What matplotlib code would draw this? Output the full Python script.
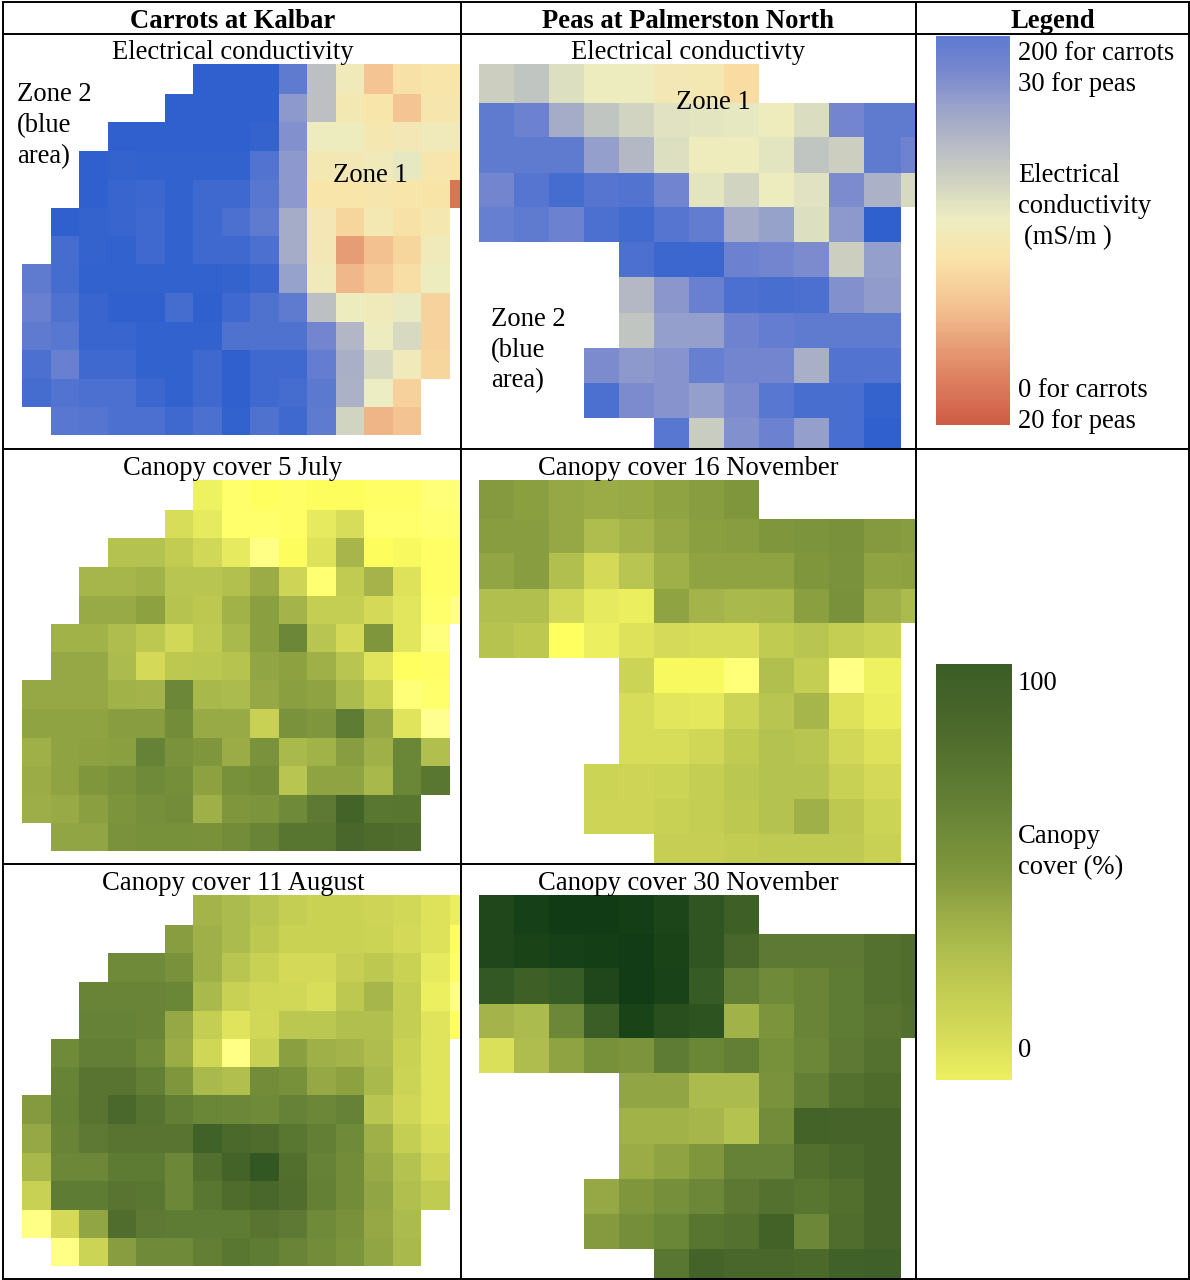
import numpy as np
import matplotlib
matplotlib.use('Agg')
import matplotlib.pyplot as plt
from matplotlib.colors import LinearSegmentedColormap, Normalize
from matplotlib.cm import ScalarMappable

n = np.nan

# electrical conductivity, legend scale 0-100, above 100 = deeper blue than the legend
ec_carrots = [
    [n, n, n, n, n, n, 115, 115, 115, 100, 70, 50, 32, 42, 44, 44],
    [n, n, n, n, n, 115, 115, 115, 115, 85, 70, 47, 44, 32, 45, 45],
    [n, n, n, 115, 115, 115, 115, 115, 113, 88, 52, 52, 46, 48, 50, 50],
    [n, n, 115, 113, 114, 114, 114, 114, 104, 85, 47, 48, 50, 55, 45, 44],
    [n, n, 115, 112, 111, 114, 110, 110, 102, 85, 44, 44, 45, 44, 43, 8],
    [n, 115, 113, 112, 110, 114, 110, 106, 100, 78, 48, 38, 47, 42, 46, n],
    [n, 108, 113, 114, 110, 114, 110, 110, 106, 78, 48, 20, 30, 38, 50, n],
    [100, 108, 114, 114, 114, 114, 114, 113, 111, 82, 50, 28, 34, 41, 52, n],
    [96, 105, 112, 115, 115, 108, 115, 110, 105, 100, 70, 52, 50, 54, 37, n],
    [100, 102, 112, 112, 114, 114, 114, 105, 105, 105, 92, 74, 52, 60, 37, n],
    [106, 96, 110, 110, 114, 114, 110, 115, 110, 110, 98, 77, 60, 50, 38, n],
    [108, 104, 106, 106, 111, 114, 110, 115, 110, 108, 101, 76, 53, 36, n, n],
    [n, 102, 103, 106, 106, 110, 106, 114, 105, 110, 100, 62, 27, 31, n, n],
]
ec_peas = [
    [64, 68, 58, 52, 52, 48, 47, 40, n, n, n, n, n],
    [100, 95, 78, 68, 62, 57, 56, 55, 51, 59, 92, 100, 100],
    [100, 100, 100, 83, 73, 58, 51, 51, 56, 68, 64, 100, 94],
    [92, 103, 108, 103, 104, 93, 56, 62, 52, 57, 90, 76, 60],
    [97, 100, 95, 106, 109, 103, 99, 78, 82, 58, 85, 115, n],
    [n, n, n, n, 106, 111, 111, 95, 92, 90, 64, 83, n],
    [n, n, n, n, 73, 86, 96, 106, 107, 106, 88, 84, n],
    [n, n, n, n, 68, 83, 83, 94, 98, 100, 100, 100, n],
    [n, n, n, 90, 85, 87, 97, 92, 92, 77, 104, 104, n],
    [n, n, n, 106, 90, 87, 83, 90, 102, 107, 107, 113, n],
    [n, n, n, n, n, 102, 65, 88, 95, 83, 107, 115, n],
]

# canopy cover %, below 0 and above 100 run past the legend ends
canopy_5jul = [
    [n, n, n, n, n, n, -1, -10, -8, -9, -7, -7, -9, -9, -12, -12],
    [n, n, n, n, n, 10, 3, -10, -10, -9, 3, 10, -10, -10, -11, -11],
    [n, n, n, 28, 28, 21, 13, 3, -14, -7, 7, 35, -7, -5, -9, -9],
    [n, n, 35, 35, 37, 26, 26, 29, 40, 15, -11, 22, 36, 7, -9, -9],
    [n, n, 41, 41, 45, 27, 24, 37, 46, 36, 20, 20, 12, 5, -10, -14],
    [n, 37, 37, 31, 24, 13, 23, 33, 46, 62, 26, 12, 50, 5, -13, n],
    [n, 42, 42, 32, 12, 24, 25, 27, 43, 45, 38, 26, 6, -8, -9, n],
    [42, 42, 42, 37, 36, 62, 34, 32, 42, 46, 44, 32, 17, -12, -10, n],
    [44, 44, 44, 47, 47, 58, 41, 41, 18, 53, 50, 70, 42, 6, -16, n],
    [38, 44, 45, 46, 66, 53, 50, 40, 53, 33, 37, 47, 38, 63, 30, n],
    [40, 44, 50, 54, 60, 57, 45, 55, 58, 26, 44, 44, 34, 63, 74, n],
    [39, 41, 46, 52, 56, 58, 38, 50, 52, 60, 72, 92, 74, 75, n, n],
    [n, 43, 43, 53, 55, 55, 54, 58, 64, 75, 75, 88, 84, 82, n, n],
]
canopy_11aug = [
    [n, n, n, n, n, n, 36, 32, 26, 20, 17, 17, 15, 13, 7, 1],
    [n, n, n, n, n, 47, 38, 32, 24, 17, 17, 17, 16, 12, 7, -7],
    [n, n, n, 60, 60, 54, 38, 26, 18, 12, 12, 19, 24, 17, 3, -9],
    [n, n, 64, 64, 64, 63, 33, 18, 14, 13, 9, 24, 35, 20, 0, -14],
    [n, n, 66, 66, 64, 42, 20, 6, 13, 25, 25, 30, 30, 20, 6, -8],
    [n, 60, 68, 68, 60, 40, 14, -14, 18, 46, 38, 36, 31, 17, 6, n],
    [n, 65, 76, 76, 68, 50, 33, 30, 58, 55, 42, 45, 33, 16, 6, n],
    [48, 66, 76, 86, 77, 68, 63, 62, 60, 66, 62, 66, 26, 14, 6, n],
    [42, 64, 72, 76, 76, 76, 95, 85, 83, 74, 68, 60, 38, 20, 10, n],
    [34, 62, 62, 71, 71, 62, 80, 92, 106, 80, 66, 58, 41, 28, 15, n],
    [18, 70, 70, 76, 74, 62, 74, 83, 88, 82, 67, 58, 43, 30, 22, n],
    [-14, 12, 43, 82, 72, 70, 70, 70, 76, 72, 60, 54, 42, 32, n, n],
    [n, -14, 16, 47, 60, 60, 68, 74, 70, 64, 58, 52, 43, 33, n, n],
]
canopy_16nov = [
    [48, 46, 42, 40, 41, 44, 47, 50, n, n, n, n, n],
    [47, 47, 42, 31, 36, 42, 46, 47, 50, 52, 54, 48, 47],
    [43, 47, 30, 12, 26, 38, 44, 44, 44, 50, 53, 44, 45],
    [30, 30, 13, 3, 1, 44, 36, 33, 34, 46, 54, 38, 32],
    [27, 24, -8, 0, 7, 11, 10, 10, 22, 26, 20, 16, n],
    [n, n, n, n, 16, -5, -5, -12, 30, 20, -14, -1, n],
    [n, n, n, n, 10, 5, 4, 16, 26, 35, 7, 1, n],
    [n, n, n, n, 10, 10, 14, 22, 28, 26, 13, 7, n],
    [n, n, n, 16, 15, 16, 20, 25, 28, 28, 18, 12, n],
    [n, n, n, 15, 15, 18, 20, 24, 28, 38, 24, 16, n],
    [n, n, n, n, n, 19, 19, 21, 23, 23, 23, 18, n],
]
canopy_30nov = [
    [120, 127, 131, 131, 128, 122, 108, 97, n, n, n, n, n],
    [120, 124, 127, 128, 130, 124, 108, 88, 72, 72, 72, 78, 82],
    [105, 97, 102, 120, 130, 125, 103, 68, 60, 64, 70, 78, 82],
    [36, 32, 62, 100, 124, 113, 110, 37, 52, 64, 70, 76, 80],
    [8, 31, 44, 55, 52, 70, 63, 68, 55, 62, 72, 78, n],
    [n, n, n, n, 43, 43, 32, 32, 53, 68, 78, 84, n],
    [n, n, n, n, 37, 37, 35, 28, 58, 92, 90, 90, n],
    [n, n, n, n, 40, 44, 50, 66, 66, 80, 85, 90, n],
    [n, n, n, 42, 50, 56, 62, 73, 78, 75, 80, 90, n],
    [n, n, n, 48, 57, 63, 75, 78, 94, 62, 82, 90, n],
    [n, n, n, n, n, 74, 92, 88, 88, 85, 95, 96, n],
]

# colour scales
ec_stops = [(0, '#CF5B45'), (15, '#E08A68'), (30, '#F3C08F'), (43, '#F9E4A8'), (53, '#ECEDC2'),
            (65, '#C9CCC0'), (74, '#B2B6C6'), (82, '#98A2CA'), (92, '#7485CF'), (100, '#5F7BD0'),
            (115, '#2F60CE')]
canopy_stops = [(-16, '#FFFF90'), (-8, '#FFFF5E'), (0, '#ECF060'), (10, '#D7DC59'), (20, '#C4CE52'),
                (30, '#B0BF4E'), (40, '#9BAC47'), (50, '#7F963C'), (60, '#6F8A38'), (70, '#5F7C34'),
                (80, '#536F2E'), (90, '#46642A'), (100, '#3B5E26'), (132, '#0F3A14')]


def make_cmap(stops):
    lo, hi = stops[0][0], stops[-1][0]
    pos = [(v - lo) / (hi - lo) for v, c in stops]
    cmap = LinearSegmentedColormap.from_list('x', list(zip(pos, [c for v, c in stops])), N=512)
    cmap.set_bad('white', 0)
    return cmap, Normalize(lo, hi)


ec_cmap, ec_norm = make_cmap(ec_stops)
canopy_cmap, canopy_norm = make_cmap(canopy_stops)

W, H = 1190, 1280
plt.rcParams['font.family'] = ['Liberation Serif']
fig = plt.figure(figsize=(W / 100, H / 100), dpi=100)


def px_axes(x0, y0, x1, y1, zorder=1):
    """axes placed by image pixels (y counted from the top)"""
    ax = fig.add_axes([x0 / W, 1 - y1 / H, (x1 - x0) / W, (y1 - y0) / H], zorder=zorder)
    ax.set_axis_off()
    return ax


# cell edges in px from the corner of each grid, they are not quite even in the source image
left_cols = [28.5 * i for i in range(17)]
right_cols = [0, 35, 70, 105, 140, 175, 210, 245, 280, 315, 350, 385, 422, 437]
left_rows = [0, 30, 58, 87, 115.5, 144, 172, 200, 229, 258, 286, 315, 343, 371]
right_rows = [0, 38.5, 73, 108.5, 143, 178, 213, 248.5, 283.5, 318.5, 353.5, 384]


def draw_grid(values, x0, top, cols, rows, x_end, cmap, norm):
    values = np.array(values, dtype=float)
    ax = px_axes(x0, top, x_end, top + rows[-1])
    ax.pcolormesh(cols, rows, np.ma.masked_invalid(values), cmap=cmap, norm=norm,
                  edgecolors='none', antialiased=False)
    ax.set_xlim(0, x_end - x0)
    ax.set_ylim(rows[-1], 0)
    ax.set_axis_off()


draw_grid(ec_carrots, 22, 64, left_cols, left_rows, 461, ec_cmap, ec_norm)
draw_grid(canopy_5jul, 22, 480, left_cols, left_rows, 461, canopy_cmap, canopy_norm)
draw_grid(canopy_11aug, 22, 895, left_cols, left_rows, 461, canopy_cmap, canopy_norm)
draw_grid(ec_peas, 479, 64, right_cols, right_rows, 916, ec_cmap, ec_norm)
draw_grid(canopy_16nov, 479, 480, right_cols, right_rows, 916, canopy_cmap, canopy_norm)
draw_grid(canopy_30nov, 479, 895, right_cols, right_rows, 916, canopy_cmap, canopy_norm)


def draw_legend(x0, y0, x1, y1, cmap, norm):
    cax = px_axes(x0, y0, x1, y1)
    cb = fig.colorbar(ScalarMappable(norm=norm, cmap=cmap), cax=cax,
                      boundaries=np.linspace(0, 100, 201), drawedges=False)
    cb.outline.set_visible(False)
    cb.set_ticks([])
    cax.set_axis_on()
    for s in cax.spines.values():
        s.set_visible(False)


draw_legend(936, 36, 1010, 425, ec_cmap, Normalize(ec_norm.vmin, ec_norm.vmax))
draw_legend(936, 664, 1012, 1080, canopy_cmap, canopy_norm)

# table rules and all text go on one overlay in pixel coordinates
top = px_axes(0, 0, W, H, zorder=5)
top.set_xlim(0, W)
top.set_ylim(H, 0)
top.patch.set_alpha(0)
lw = 1.4
for x in [3, 461, 916, 1189]:
    top.plot([x, x], [2, 1279], color='black', lw=lw, solid_capstyle='butt')
top.plot([3, 1189], [2, 2], color='black', lw=lw)
top.plot([3, 1189], [33.5, 33.5], color='black', lw=lw)
top.plot([3, 1189], [449, 449], color='black', lw=lw)
top.plot([3, 916], [864, 864], color='black', lw=lw)
top.plot([3, 1189], [1279, 1279], color='black', lw=lw)

fs = 19.2
for x, y, s in [(233, 28, 'Carrots at Kalbar'), (688, 28, 'Peas at Palmerston North'), (1053, 28, 'Legend')]:
    top.text(x, y, s, ha='center', va='baseline', fontsize=fs, fontweight='bold')
for x, y, s in [(233, 59.4, 'Electrical conductivity'), (688, 59.4, 'Electrical conductivty'),
                (233, 475.4, 'Canopy cover 5 July'), (688, 475.4, 'Canopy cover 16 November'),
                (233, 890.4, 'Canopy cover 11 August'), (688, 890.4, 'Canopy cover 30 November')]:
    top.text(x, y, s, ha='center', va='baseline', fontsize=fs)
for x, y, s in [(17, 101.4, 'Zone 2'), (17, 132.4, '(blue'), (17, 163.4, 'area)'), (333, 182.4, 'Zone 1'),
                (676, 109.4, 'Zone 1'), (491, 325.7, 'Zone 2'), (491, 356.7, '(blue'), (491, 386.7, 'area)'),
                (1018, 59.7, '200 for carrots'), (1018, 90.7, '30 for peas'),
                (1018, 182.4, 'Electrical'), (1018, 213.4, 'conductivity'), (1024, 244, '(mS/m )'),
                (1018, 397.4, '0 for carrots'), (1018, 428, '20 for peas'),
                (1018, 689.7, '100'), (1018, 843.4, 'Canopy'), (1018, 874, 'cover (%)'), (1018, 1057.4, '0')]:
    top.text(x, y, s, ha='left', va='baseline', fontsize=fs)

fig.savefig('out.png', dpi=100)
